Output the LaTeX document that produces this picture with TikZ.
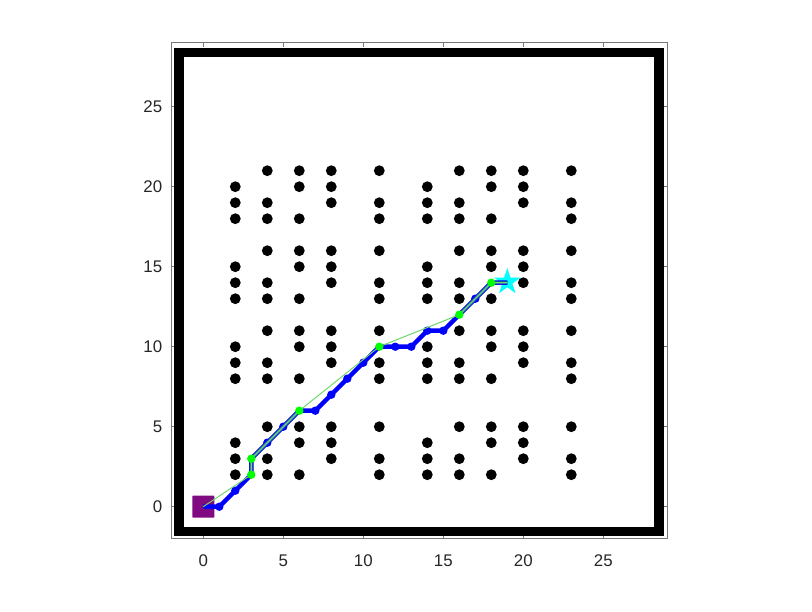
\documentclass[tikz,border=0pt]{standalone}
\usepackage{fontspec}
\setmainfont{Liberation Sans}
\usetikzlibrary{shapes.geometric}
\definecolor{axcol}{RGB}{38,38,38}
\definecolor{axline}{RGB}{120,120,120}
\definecolor{pathblue}{RGB}{0,0,255}
\definecolor{mixcol}{RGB}{20,80,160}
\definecolor{mixin}{RGB}{110,180,200}
\definecolor{lgreen}{RGB}{110,215,110}
\definecolor{mgreen}{RGB}{0,255,0}
\definecolor{startcol}{RGB}{128,10,128}
\definecolor{goalcol}{RGB}{0,255,255}
\tikzset{
  obst/.style={circle,fill=black,inner sep=0pt,minimum size=0.27cm},
  bmark/.style={circle,fill=pathblue,inner sep=0pt,minimum size=0.21cm},
  gmark/.style={circle,fill=mgreen,inner sep=0pt,minimum size=0.21cm},
  ticklab/.style={inner sep=0pt,text=axcol,font=\fontsize{12}{14}\selectfont},
}
\begin{document}
\begin{tikzpicture}[x=0.4cm,y=0.4cm]
\useasboundingbox (-12.706,-6.519) rectangle (38.044,31.669);
% axes box
\draw[axline,line width=0.5pt] (-2,-2) rectangle (29,29);
\foreach \t in {0,5,...,25}{
  \draw[axline,line width=0.5pt] (\t,-2) -- (\t,-1.7);
  \draw[axline,line width=0.5pt] (\t,29) -- (\t,28.7);
  \draw[axline,line width=0.5pt] (-2,\t) -- (-1.7,\t);
  \draw[axline,line width=0.5pt] (29,\t) -- (28.7,\t);
  \node[ticklab] (xl\t) at (\t,-3.4) {\t};
  \node[ticklab,anchor=east] (yl\t) at (-2.55,\t) {\t};
}
% walls
\draw[black,line width=0.24cm] (-1.5,-1.55) rectangle (28.47,28.38);
% obstacles
\foreach \cx/\miss in {2/3,4/2,6/1,8/0,11/2,14/3,16/2,18/1,20/0,23/2}{
  \foreach \by in {2,8,13,18}{
    \foreach \o in {0,1,2,3}{
      \ifnum\o=\miss\relax\else
        \pgfmathtruncatemacro{\yy}{\by+\o}
        \node[obst] (o-\cx-\yy) at (\cx,\yy) {};
      \fi
    }
  }
}
% start and goal
\node[rectangle,fill=startcol,rounded corners=0.5pt,minimum size=0.55cm,inner sep=0pt] (start) at (0,0) {};
\node[star,star points=5,star point ratio=2.6,fill=goalcol,minimum size=0.7cm,inner sep=0pt] (goal) at (19,14.05) {};
% path coordinates
\foreach \n/\px/\py in {0/0/0,1/1/0,2/2/1,3/3/2,4/3/3,5/4/4,6/5/5,7/6/6,8/7/6,9/8/7,10/9/8,11/10/9,12/11/10,13/12/10,14/13/10,15/14/11,16/15/11,17/16/12,18/17/13,19/18/14,20/19/14}{
  \coordinate (p\n) at (\px,\py);
}
\draw[pathblue,line width=3.2pt,line join=round] (p0) \foreach \n in {1,...,20}{ -- (p\n) };
\foreach \n in {1,2,5,6,8,9,10,11,13,14,15,16,18}{
  \node[bmark] (bm\n) at (p\n) {};
}
% overlay on shared segments
\draw[mixcol,line width=0.8pt,double=mixin,double distance=0.9pt,line join=round] (p3) -- (p4) -- (p7);
\draw[mixcol,line width=0.8pt,double=mixin,double distance=0.9pt,line join=round] (p17) -- (p19) -- (p20);
% green simplified path
\draw[lgreen,line width=0.7pt] (p0) -- (p3) -- (p4) -- (p7) -- (p12) -- (p17) -- (p19) -- (p20);
\foreach \n in {3,4,7,12,17,19}{
  \node[gmark] (gm\n) at (p\n) {};
}
\end{tikzpicture}
\end{document}
